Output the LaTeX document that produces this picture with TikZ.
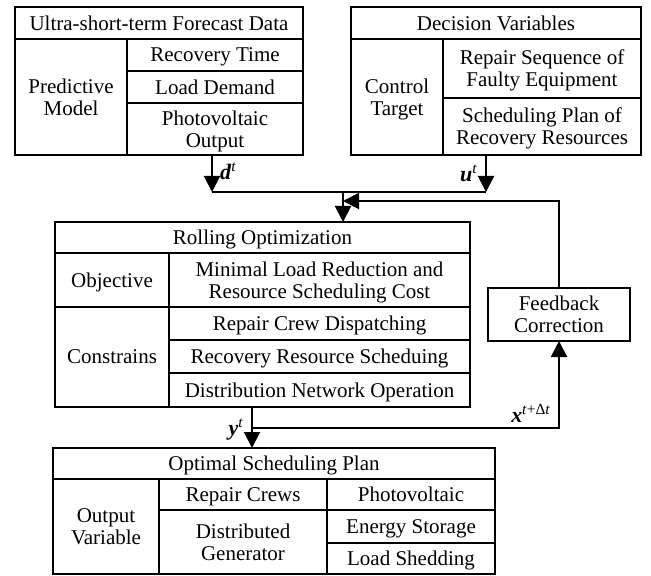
\documentclass[tikz,border=0pt]{standalone}
\usepackage{fontspec}
\setmainfont{Liberation Serif}
\usetikzlibrary{positioning,arrows.meta}

\begin{document}
\begin{tikzpicture}[x=0.5pt,y=-0.5pt,line width=1pt,>={Triangle[length=8pt,width=8pt]},
  font=\fontsize{10.5pt}{11pt}\selectfont]
\tikzstyle{cell} = [rectangle, draw, outer sep=0pt, inner sep=1pt, align=center, text depth=0pt]
\tikzstyle{lbl} = [inner sep=3.5pt, font=\fontsize{11pt}{12pt}\selectfont]
\useasboundingbox (0,0) rectangle (651,576);

% forecast data
\node[cell, anchor=north west, minimum width=144pt, minimum height=16pt] (fcTitle) at (15,7) {Ultra-short-term Forecast Data};
\node[cell, below right=0pt of fcTitle.south west, minimum width=56pt, minimum height=58pt] (fcModel) {Predictive\\Model};
\node[cell, below right=0pt of fcModel.north east, minimum width=88pt, minimum height=16pt] (fcTime) {Recovery Time};
\node[cell, below right=0pt of fcTime.south west, minimum width=88pt, minimum height=16pt] (fcLoad) {Load Demand};
\node[cell, below right=0pt of fcLoad.south west, minimum width=88pt, minimum height=26pt] (fcPV) {Photovoltaic\\Output};

% decision variables
\node[cell, anchor=north west, minimum width=145pt, minimum height=16pt] (dvTitle) at (351,7) {Decision Variables};
\node[cell, below right=0pt of dvTitle.south west, minimum width=46pt, minimum height=58pt] (dvTarget) {Control\\Target};
\node[cell, below right=0pt of dvTarget.north east, minimum width=99pt, minimum height=29.5pt] (dvRepair) {Repair Sequence of\\Faulty Equipment};
\node[cell, below right=0pt of dvRepair.south west, minimum width=99pt, minimum height=28.5pt] (dvPlan) {Scheduling Plan of\\Recovery Resources};

% rolling optimization
\node[cell, anchor=north west, minimum width=207.5pt, minimum height=15.5pt] (rollTitle) at (55,222) {Rolling Optimization};
\node[cell, below right=0pt of rollTitle.south west, minimum width=57pt, minimum height=27pt] (rollObj) {Objective};
\node[cell, below right=0pt of rollObj.north east, minimum width=150.5pt, minimum height=27pt] (rollCost) {Minimal Load Reduction and\\Resource Scheduling Cost};
\node[cell, below right=0pt of rollObj.south west, minimum width=57pt, minimum height=50pt] (rollCons) {Constrains};
\node[cell, below right=0pt of rollCost.south west, minimum width=150.5pt, minimum height=16.5pt] (rollCrew) {Repair Crew Dispatching};
\node[cell, below right=0pt of rollCrew.south west, minimum width=150.5pt, minimum height=16.5pt] (rollRes) {Recovery Resource Scheduing};
\node[cell, below right=0pt of rollRes.south west, minimum width=150.5pt, minimum height=17pt] (rollNet) {Distribution Network Operation};

% feedback
\node[cell, anchor=north west, minimum width=71pt, minimum height=26.5pt] (fb) at (488,288) {Feedback\\Correction};

% optimal plan
\node[cell, anchor=north west, minimum width=221pt, minimum height=15.5pt] (optTitle) at (53,448) {Optimal Scheduling Plan};
\node[cell, below right=0pt of optTitle.south west, minimum width=53pt, minimum height=47.5pt] (optVar) {Output\\Variable};
\node[cell, below right=0pt of optVar.north east, minimum width=84pt, minimum height=15.5pt] (optCrew) {Repair Crews};
\node[cell, below right=0pt of optCrew.south west, minimum width=84pt, minimum height=32pt] (optDG) {Distributed\\Generator};
\node[cell, below right=0pt of optCrew.north east, minimum width=84pt, minimum height=15.5pt] (optPV) {Photovoltaic};
\node[cell, below right=0pt of optPV.south west, minimum width=84pt, minimum height=16.5pt] (optES) {Energy Storage};
\node[cell, below right=0pt of optES.south west, minimum width=84pt, minimum height=15.5pt] (optLS) {Load Shedding};

% connectors
\coordinate (mergeL) at (212,192);
\coordinate (mergeR) at (486,192);
\coordinate (mergeC) at (343,192);
\coordinate (fbTurn) at (559,201);
\coordinate (ySplit) at (252,428);

\draw[->] (mergeL |- fcPV.south) -- node[right, pos=0.45, lbl] (dLbl) {\textbf{\textit{d}}\textsuperscript{\textit{t}}} (mergeL);
\draw[->] (mergeR |- dvPlan.south) -- node[left, pos=0.5, lbl] (uLbl) {\textbf{\textit{u}}\textsuperscript{\textit{t}}} (mergeR);
\draw (mergeL) -- (mergeR);
\draw[->] (mergeC) -- (mergeC |- rollTitle.north);
\draw[->] (fb.north) -- (fb.north |- fbTurn) -- (mergeC |- fbTurn);
\draw[->] (ySplit |- rollNet.south) -- node[left, pos=0.55, lbl] (yLbl) {\textbf{\textit{y}}\textsuperscript{\textit{t}}} (ySplit |- optTitle.north);
\draw[->] (ySplit) -- (fb.south |- ySplit) -- node[left, pos=0.17, lbl] (xLbl) {\textbf{\textit{x}}\textsuperscript{\textit{t}+Δ\textit{t}}} (fb.south);
\end{tikzpicture}
\end{document}
